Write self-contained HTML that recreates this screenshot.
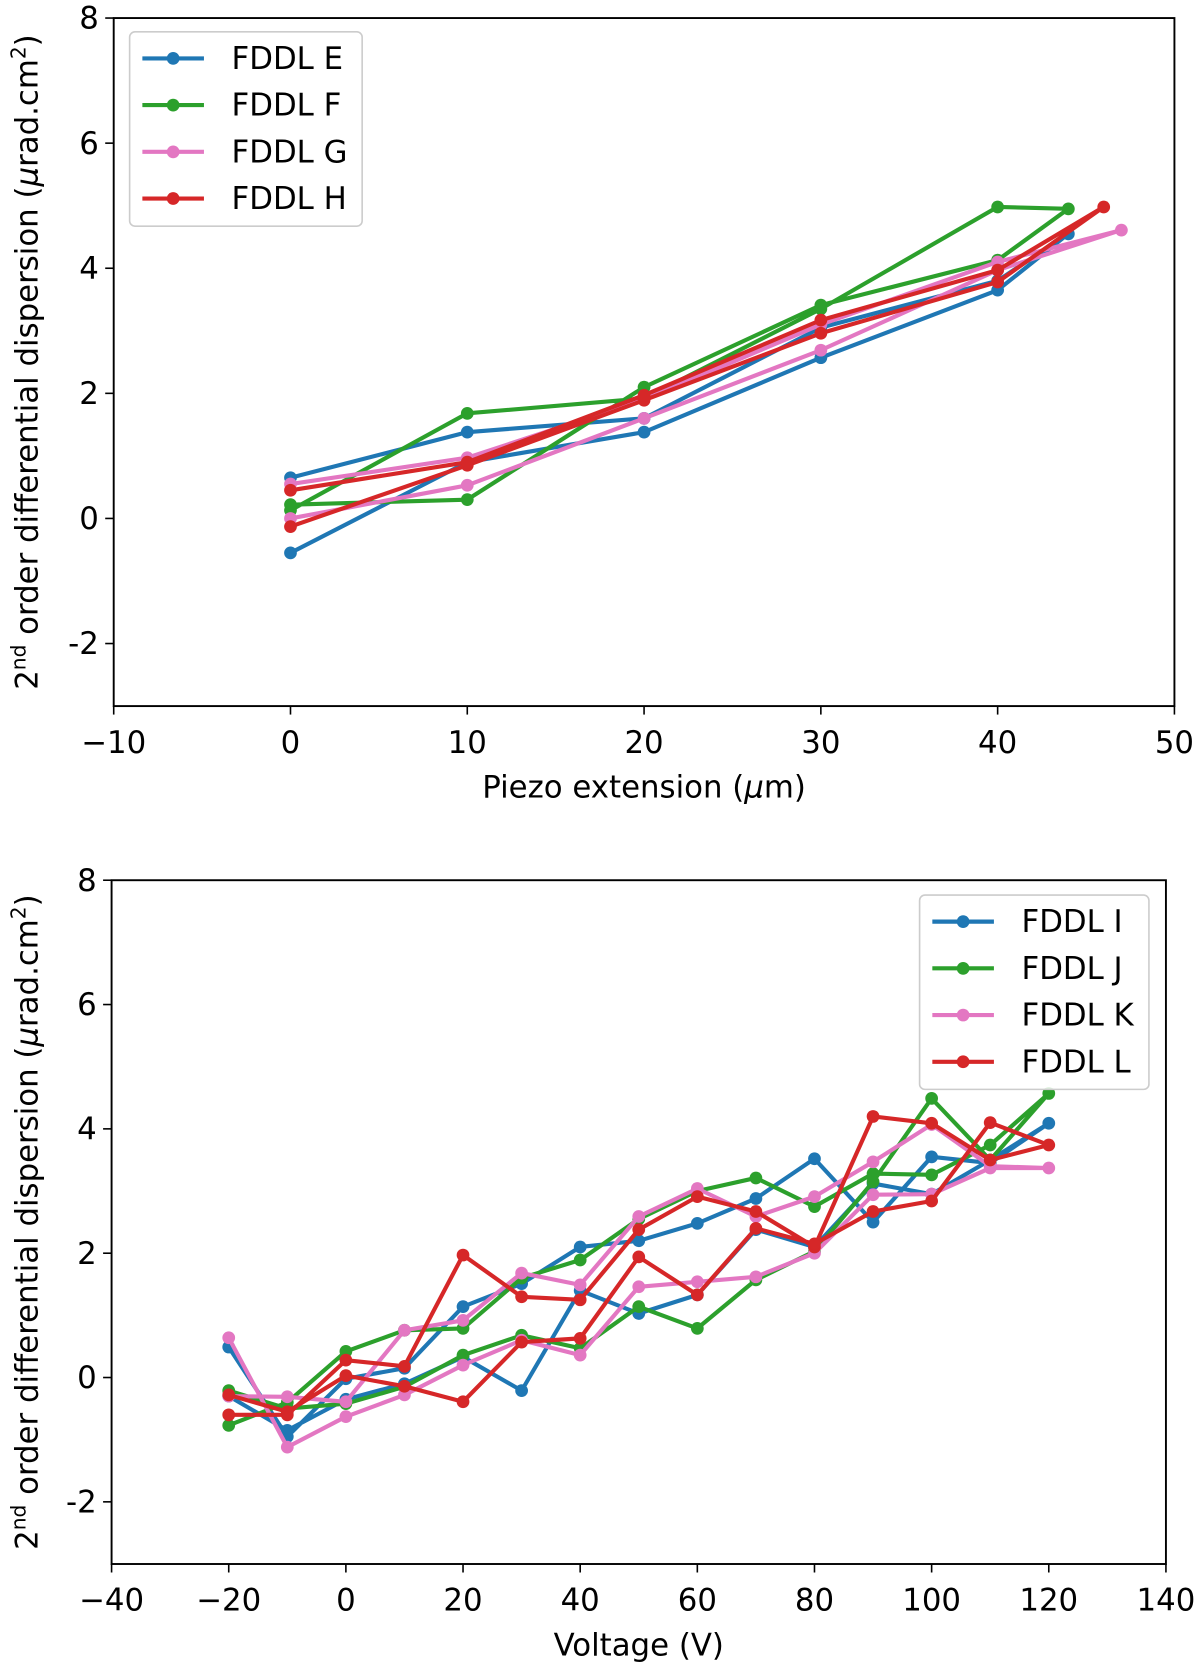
<!DOCTYPE html>
<html><head><meta charset="utf-8"><style>
html,body{margin:0;padding:0;background:#fff}
svg{display:block}
text{font-family:"DejaVu Sans","Liberation Sans",sans-serif;fill:#000}
</style></head><body>
<svg id="fig" width="1200" height="1667" viewBox="0 0 1130 1570" xmlns="http://www.w3.org/2000/svg"></svg>
<script>
// ---- Top chart data ----
const topX = [0,10,20,30,40,44,40,30,20,10,0];
const topXG = [0,10,20,30,40,47,40,30,20,10,0];
const topXH = [0,10,20,30,40,46,40,30,20,10,0];
const fddlE = [-0.55,0.9,1.38,2.57,3.65,4.55,3.8,3.05,1.6,1.38,0.65];
const fddlF = [0.13,1.68,1.92,3.35,4.98,4.95,4.13,3.41,2.1,0.3,0.22];
const fddlG = [0.0,0.53,1.6,2.69,3.97,4.61,4.1,3.1,1.9,0.97,0.55];
const fddlH = [-0.13,0.85,1.89,2.96,3.78,4.98,3.97,3.17,1.97,0.9,0.45];
const topXTicks = [-10,0,10,20,30,40,50];
const topXTickLabels = ["−10","0","10","20","30","40","50"];
const yTicks = [8,6,4,2,0,-2];
const yTickLabels = ["8","6","4","2","0","-2"];
// ---- Bottom chart data ----
const voltX = [-20,-10,0,10,20,30,40,50,60,70,80,90,100,110,120,110,100,90,80,70,60,50,40,30,20,10,0,-10,-20];
const fddlI = [0.49,-0.95,-0.02,0.15,1.14,1.51,2.1,2.2,2.48,2.88,3.52,2.5,3.55,3.45,4.09,3.5,2.95,3.12,2.1,2.38,1.33,1.03,1.4,-0.21,0.33,-0.1,-0.35,-0.85,-0.3];
const fddlJ = [-0.77,-0.4,0.42,0.76,0.79,1.6,1.89,2.55,3.0,3.21,2.75,3.28,3.26,3.74,4.57,3.5,4.49,3.15,2.03,1.57,0.79,1.14,0.47,0.68,0.36,-0.15,-0.42,-0.5,-0.21];
const fddlK = [0.64,-1.12,-0.63,-0.28,0.2,0.6,0.36,1.46,1.54,1.62,2.0,2.94,2.95,3.37,3.37,3.4,4.07,3.47,2.91,2.59,3.04,2.59,1.49,1.68,0.92,0.76,-0.39,-0.31,-0.3];
const fddlL = [-0.6,-0.6,0.28,0.18,1.97,1.30,1.25,2.38,2.91,2.67,2.1,4.2,4.09,3.5,3.74,4.1,2.84,2.67,2.15,2.4,1.33,1.94,0.63,0.57,-0.39,-0.14,0.03,-0.55,-0.28];
const botXTicks = [-40,-20,0,20,40,60,80,100,120,140];
const botXTickLabels = ["−40","−20","0","20","40","60","80","100","120","140"];

const NS = "http://www.w3.org/2000/svg";
const svg = document.getElementById("fig");
function mk(tag, attrs, parent){
  const e = document.createElementNS(NS, tag);
  for (const k in attrs) e.setAttribute(k, attrs[k]);
  (parent||svg).appendChild(e);
  return e;
}
const C = {blue:"#1f77b4", green:"#2ca02c", pink:"#e377c2", red:"#d62728"};
const FS = 29;

function chart(cfg){
  const g = mk("g", {});
  
  
  const sx = v => cfg.L + (v - cfg.xmin) / (cfg.xmax - cfg.xmin) * (cfg.R - cfg.L);
  const sy = v => cfg.B - (v - cfg.ymin) / (cfg.ymax - cfg.ymin) * (cfg.B - cfg.T);
  cfg.series.forEach(s => {
    const sg = mk("g", {}, g);
    
    
    const pts = s.y.map((v,i) => sx(s.x[i]).toFixed(1) + "," + sy(v).toFixed(1)).join(" ");
    const pl = mk("polyline", {points: pts, fill: "none", stroke: s.color, "stroke-width": 3.9, "stroke-linejoin": "round"}, sg);
    
    
    s.y.forEach((v,i) => {
      const c = mk("circle", {cx: sx(s.x[i]), cy: sy(v), r: 6, fill: s.color}, sg);
      
      
    });
  });
  const fr = mk("rect", {x: cfg.L, y: cfg.T, width: cfg.R - cfg.L, height: cfg.B - cfg.T, fill: "none", stroke: "#000", "stroke-width": 1.8}, g);
  
  
  cfg.xticks.forEach((v,i) => {
    const t = mk("line", {x1: sx(v), x2: sx(v), y1: cfg.B, y2: cfg.B + 8, stroke: "#000", "stroke-width": 1.5}, g);
    
    
    const tx = mk("text", {x: sx(v), y: cfg.B + 44, "text-anchor": "middle", "font-size": FS}, g);
    tx.textContent = cfg.xlabels[i];
    
    
  });
  yTicks.forEach((v,i) => {
    const t = mk("line", {x1: cfg.L - 8, x2: cfg.L, y1: sy(v), y2: sy(v), stroke: "#000", "stroke-width": 1.5}, g);
    
    
    const tx = mk("text", {x: cfg.L - 14, y: sy(v) + 10, "text-anchor": "end", "font-size": FS}, g);
    tx.textContent = yTickLabels[i];
    
    
  });
  const xl = mk("text", {x: (cfg.L + cfg.R)/2, y: cfg.B + 86, "text-anchor": "middle", "font-size": FS}, g);
  xl.innerHTML = cfg.xtitle;
  
  
  const yc = (cfg.T + cfg.B)/2;
  const yl = mk("text", {x: 0, y: 0, "text-anchor": "middle", "font-size": FS, transform: `translate(35,${yc}) rotate(-90)`}, g);
  yl.innerHTML = '2<tspan dy="-11" font-size="19">nd</tspan><tspan dy="11"> order differential dispersion (</tspan><tspan font-style="italic">μ</tspan>rad.cm<tspan dy="-11" font-size="19">2</tspan><tspan dy="11">)</tspan>';
  
  
  const lg = mk("g", {}, g);
  
  
  const lb = mk("rect", {x: cfg.leg.x, y: cfg.leg.y, width: cfg.leg.w, height: cfg.leg.h, rx: 5, fill: "#fff", "fill-opacity": 0.85, stroke: "#ccc", "stroke-width": 1.5}, lg);
  
  
  cfg.series.forEach((s,i) => {
    const y = cfg.leg.y + 25 + i*44;
    const e = mk("g", {}, lg);
    
    
    mk("line", {x1: cfg.leg.x + 12, x2: cfg.leg.x + 70, y1: y, y2: y, stroke: s.color, "stroke-width": 3.9}, e);
    mk("circle", {cx: cfg.leg.x + 41, cy: y, r: 6, fill: s.color}, e);
    const t = mk("text", {x: cfg.leg.x + 96, y: y + 10, "font-size": FS}, e);
    t.textContent = s.label;
  });
}

chart({name:"piezo-chart", L:107, R:1106, T:17, B:665, xmin:-10, xmax:50, ymin:-3, ymax:8,
  xticks: topXTicks, xlabels: topXTickLabels,
  xtitle: 'Piezo extension (<tspan font-style="italic">μ</tspan>m)',
  leg: {x:122, y:30, w:219, h:183},
  series: [
    {key:"fddl-e", label:"FDDL E", color:C.blue, x:topX, y:fddlE},
    {key:"fddl-f", label:"FDDL F", color:C.green, x:topX, y:fddlF},
    {key:"fddl-g", label:"FDDL G", color:C.pink, x:topXG, y:fddlG},
    {key:"fddl-h", label:"FDDL H", color:C.red, x:topXH, y:fddlH}
  ]});

chart({name:"voltage-chart", L:105, R:1098, T:829, B:1473, xmin:-40, xmax:140, ymin:-3, ymax:8,
  xticks: botXTicks, xlabels: botXTickLabels,
  xtitle: 'Voltage (V)',
  leg: {x:866, y:843, w:216, h:183},
  series: [
    {key:"fddl-i", label:"FDDL I", color:C.blue, x:voltX, y:fddlI},
    {key:"fddl-j", label:"FDDL J", color:C.green, x:voltX, y:fddlJ},
    {key:"fddl-k", label:"FDDL K", color:C.pink, x:voltX, y:fddlK},
    {key:"fddl-l", label:"FDDL L", color:C.red, x:voltX, y:fddlL}
  ]});
</script>
</body></html>
